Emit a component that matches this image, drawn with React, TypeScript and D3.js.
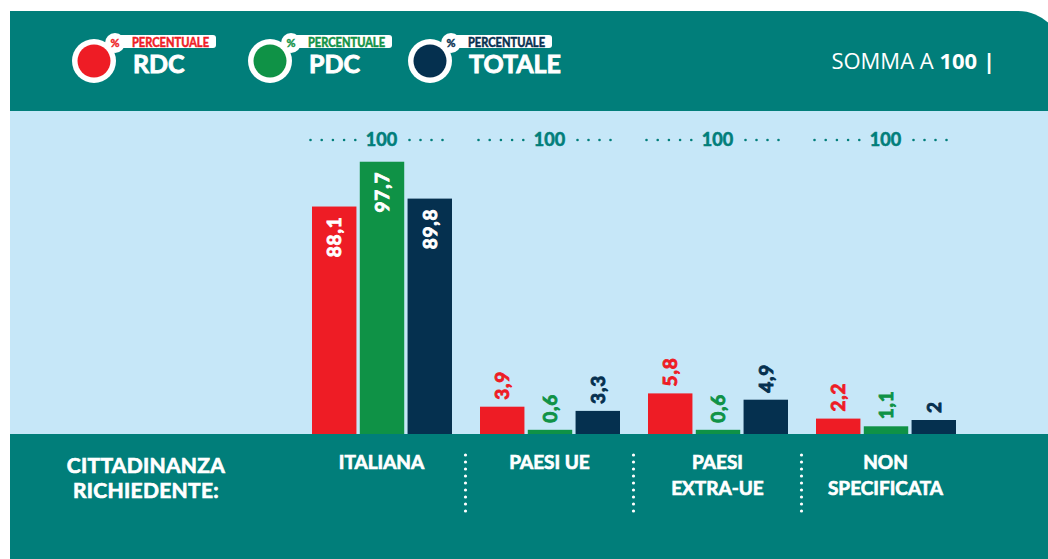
import React from "react";
import * as d3 from "d3";

const categories = ["ITALIANA", "PAESI UE", "PAESI EXTRA-UE", "NON SPECIFICATA"];
const categoryLines = [["ITALIANA"], ["PAESI UE"], ["PAESI", "EXTRA-UE"], ["NON", "SPECIFICATA"]];
const seriesNames = ["RDC", "PDC", "TOTALE"];
const rdcValues = [88.1, 3.9, 5.8, 2.2];
const pdcValues = [97.7, 0.6, 0.6, 1.1];
const totaleValues = [89.8, 3.3, 4.9, 2];
const sumLabels = ["100", "100", "100", "100"];

const W = 1048;
const H = 559;
const TEAL = "#017E7A";
const LIGHT = "#C6E7F8";
const COLORS = ["#EE1C25", "#0F9246", "#05304F"];
const FONT = "Lato, 'Open Sans', sans-serif";

const fmt = (v: number) => String(v).replace(".", ",");

export default function App() {
  const series = [rdcValues, pdcValues, totaleValues];
  const baseline = 434;
  const x0 = d3.scaleBand<string>().domain(categories).range([297.5, 969.5]);
  const x1 = d3.scaleBand<string>().domain(seriesNames).range([14.5, 154.5]).paddingInner(0.07);
  const h = d3.scaleLinear().domain([0, 6, 88, 100]).range([0, 42, 227, 283]);

  const legendX = [94, 270, 430];
  const heavy = (c: string, w = 0.7) => ({ stroke: c, strokeWidth: w, paintOrder: "stroke" as const });

  return (
    <svg width={W} height={H} style={{ position: "absolute", left: 0, top: 0, background: "#fff" }} fontFamily={FONT}>
      {/* panel */}
      <path d={`M10,11 H1018 A45,45 0 0 1 1063,56 V${H + 10} H10 Z`} fill={TEAL} />
      <rect x={10} y={111} width={W} height={baseline - 111} fill={LIGHT} />

      {/* legend */}
      {seriesNames.map((s, i) => {
        const cx = legendX[i];
        const cy = 61;
        const tx = cx + 39;
        const pillW = 83;
        return (
          <g key={s}>
            <rect x={cx + 18} y={35} width={tx - cx - 18 + pillW} height={13} rx={3} fill="#fff" />
            <circle cx={cx} cy={cy} r={22} fill="#fff" />
            <circle cx={cx} cy={cy} r={16.5} fill={COLORS[i]} />
            <circle cx={cx + 21} cy={43} r={10} fill="#fff" />
            <text x={cx + 21} y={47} textAnchor="middle" fontSize={11} fontWeight={700} fill={COLORS[i]} {...heavy(COLORS[i], 0.4)}>%</text>
            <text x={tx - 1} y={46.5} fontSize={12.5} fontWeight={700} fill={COLORS[i]} textLength={77} lengthAdjust="spacingAndGlyphs" {...heavy(COLORS[i], 0.5)}>PERCENTUALE</text>
            <text x={tx} y={73} fontSize={25} fontWeight={700} fill="#fff" {...heavy("#fff", 0.9)}>{s}</text>
          </g>
        );
      })}
      <text x={995} y={69} textAnchor="end" fontSize={22} fill="#fff" fontFamily="'Open Sans', sans-serif">
        SOMMA A <tspan fontWeight={700}>100</tspan> <tspan fontWeight={700}>|</tspan>
      </text>

      {/* sum labels */}
      {categories.map((c, ci) => {
        const cx = (x0(c) as number) + x0.bandwidth() / 2;
        return (
          <g key={"s" + c}>
            {d3.range(5).map((k) => (
              <circle key={"l" + k} cx={cx - 71 + k * 11.2} cy={140} r={1.3} fill={TEAL} />
            ))}
            {d3.range(4).map((k) => (
              <circle key={"r" + k} cx={cx + 28 + k * 11} cy={140} r={1.3} fill={TEAL} />
            ))}
            <text x={cx} y={146} textAnchor="middle" fontSize={18} fontWeight={700} fill={TEAL} {...heavy(TEAL, 0.6)}>{sumLabels[ci]}</text>
          </g>
        );
      })}

      {/* bars */}
      {categories.map((c, ci) => (
        <g key={c} transform={`translate(${x0(c)},0)`}>
          {seriesNames.map((s, si) => {
            const v = series[si][ci];
            const bh = h(v);
            const x = x1(s) as number;
            const bw = x1.bandwidth();
            const top = baseline - bh;
            const inside = v > 20;
            const lx = x + bw / 2;
            const ly = inside ? top + 10 : top - 7;
            const col = inside ? "#fff" : COLORS[si];
            return (
              <g key={s}>
                <rect x={x} y={top} width={bw} height={bh} fill={COLORS[si]} />
                <text
                  transform={`translate(${lx},${ly}) rotate(-90)`}
                  textAnchor={inside ? "end" : "start"}
                  dy="0.36em"
                  fontSize={19}
                  fontWeight={700}
                  fill={col}
                  letterSpacing={0.8}
                  {...heavy(col, 0.9)}
                >
                  {fmt(v)}
                </text>
              </g>
            );
          })}
        </g>
      ))}

      {/* bottom */}
      <rect x={10} y={baseline} width={W} height={H - baseline} fill={TEAL} />
      <text x={146} y={473} textAnchor="middle" fontSize={21} fontWeight={700} fill="#fff" letterSpacing={0.3} {...heavy("#fff", 0.7)}>
        <tspan x={146}>CITTADINANZA</tspan>
        <tspan x={146} dy={25}>RICHIEDENTE:</tspan>
      </text>
      {categories.map((c, ci) => {
        const cx = (x0(c) as number) + x0.bandwidth() / 2;
        return (
          <text key={"c" + c} x={cx} y={469} textAnchor="middle" fontSize={19} fontWeight={700} fill="#fff" {...heavy("#fff", 0.7)}>
            {categoryLines[ci].map((l, li) => (
              <tspan key={li} x={cx} dy={li === 0 ? 0 : 26}>{l}</tspan>
            ))}
          </text>
        );
      })}
      {categories.slice(1).map((c) => {
        const sx = x0(c) as number;
        return (
          <g key={"sep" + c}>
            {d3.range(9).map((k) => (
              <circle key={k} cx={sx} cy={455 + k * 7} r={1.6} fill="#fff" />
            ))}
          </g>
        );
      })}
    </svg>
  );
}
